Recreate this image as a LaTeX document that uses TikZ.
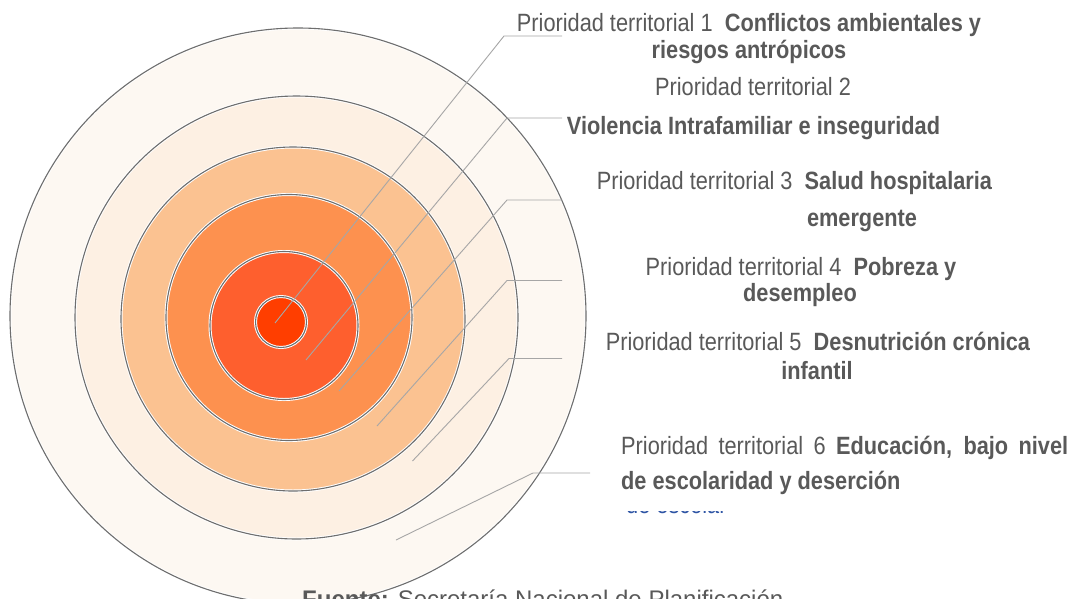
\documentclass[tikz,border=0pt]{standalone}
\usepackage{fontspec}
\setmainfont{Liberation Sans}[FakeStretch=0.87]
\newfontfamily\srcfont{Liberation Sans}
\usepackage{tikz}
\usetikzlibrary{positioning, backgrounds}

\definecolor{ringA}{HTML}{FDF8F2}
\definecolor{ringB}{HTML}{FDF0E3}
\definecolor{ringC}{HTML}{FBC291}
\definecolor{ringD}{HTML}{FD914F}
\definecolor{ringE}{HTML}{FE5F2E}
\definecolor{ringF}{HTML}{FF3E00}
\definecolor{txtgray}{HTML}{595959}
\definecolor{leadgray}{HTML}{A6A6A6}
\definecolor{edgegray}{HTML}{6E6E6E}
\definecolor{fragblue}{HTML}{2F55A5}

\begin{document}
\begin{tikzpicture}[x=1pt, y=-1pt,
  ring/.style={shape=circle, inner sep=0pt, outer sep=0pt, draw=white, line width=3pt,
    postaction={draw=edgegray, line width=1.1pt}},
  lead/.style={draw=leadgray, line width=0.9pt},
  lbl/.style={text=txtgray, inner sep=0pt, anchor=base, font=\fontsize{25}{30}\selectfont}]
  \useasboundingbox (0,0) rectangle (1074,598);
  \clip (0,0) rectangle (1074,598);
  \fill[white] (0,0) rectangle (1074,598);

  \node[ring, fill=ringA, minimum size=576pt] (r1) at (298,316) {};
  \node[ring, fill=ringB, minimum size=443pt] (r2) at (296.5,317.5) {};
  \node[ring, fill=ringC, minimum size=344pt] (r3) at (293,319) {};
  \node[ring, fill=ringD, minimum size=246pt] (r4) at (289,317.5) {};
  \node[ring, fill=ringE, minimum size=148pt] (r5) at (284,325.5) {};
  \node[ring, fill=ringF, minimum size=51pt] (r6) at (281,322) {};

  \coordinate (a1) at (275,323);
  \coordinate (b1) at (504,36);
  \coordinate (e1) at (562,36);
  \draw[lead] (a1) -- (b1) -- (e1);
  \coordinate (a2) at (306,360);
  \coordinate (b2) at (507,118);
  \coordinate (e2) at (562,118);
  \draw[lead] (a2) -- (b2) -- (e2);
  \coordinate (a3) at (339,391);
  \coordinate (b3) at (507,200);
  \coordinate (e3) at (562,200);
  \draw[lead] (a3) -- (b3) -- (e3);
  \coordinate (a4) at (377,426);
  \coordinate (b4) at (507,280.5);
  \coordinate (e4) at (562,280.5);
  \draw[lead] (a4) -- (b4) -- (e4);
  \coordinate (a5) at (412.5,461);
  \coordinate (b5) at (509,358.5);
  \coordinate (e5) at (562,358.5);
  \draw[lead] (a5) -- (b5) -- (e5);
  \coordinate (a6) at (396,540);
  \coordinate (b6) at (533,473);
  \coordinate (e6) at (590,473);
  \draw[lead] (a6) -- (b6) -- (e6);

  \node[lbl] (p1a) at (749,31) {Prioridad territorial 1\ \ \textbf{Conflictos ambientales y}};
  \node[lbl] (p1b) at (749,58) {\textbf{riesgos antrópicos}};
  \node[lbl] (p2a) at (753,95) {Prioridad territorial 2};
  \node[lbl] (p2b) at (753.5,134) {\textbf{Violencia Intrafamiliar e inseguridad}};
  \node[lbl] (p3a) at (794.5,189) {Prioridad territorial 3\ \ \textbf{Salud hospitalaria}};
  \node[lbl] (p3b) at (862,226) {\textbf{emergente}};
  \node[lbl] (p4a) at (801,275) {Prioridad territorial 4\ \ \textbf{Pobreza y}};
  \node[lbl] (p4b) at (800,301) {\textbf{desempleo}};
  \node[lbl] (p5a) at (818,350) {Prioridad territorial 5\ \ \textbf{Desnutrición crónica}};
  \node[lbl] (p5b) at (817,379) {\textbf{infantil}};
  \node[lbl, anchor=base west] (p6a) at (621,454) {\makebox[447pt][s]{Prioridad territorial 6 \textbf{Educación, bajo nivel}}};
  \node[lbl, anchor=base west] (p6b) at (621,489) {\textbf{de escolaridad y deserción}};

  \begin{scope}
    \clip (620,511.2) rectangle (740,513.4);
    \node[lbl, anchor=base west, text=fragblue] (frag) at (626,513) {de escolar};
  \end{scope}

  \node[anchor=base west, text=txtgray, inner sep=0pt, font=\srcfont\fontsize{24}{28}\selectfont] (src) at (302,607) {\textbf{Fuente:} Secretaría Nacional de Planificación};
\end{tikzpicture}
\end{document}
